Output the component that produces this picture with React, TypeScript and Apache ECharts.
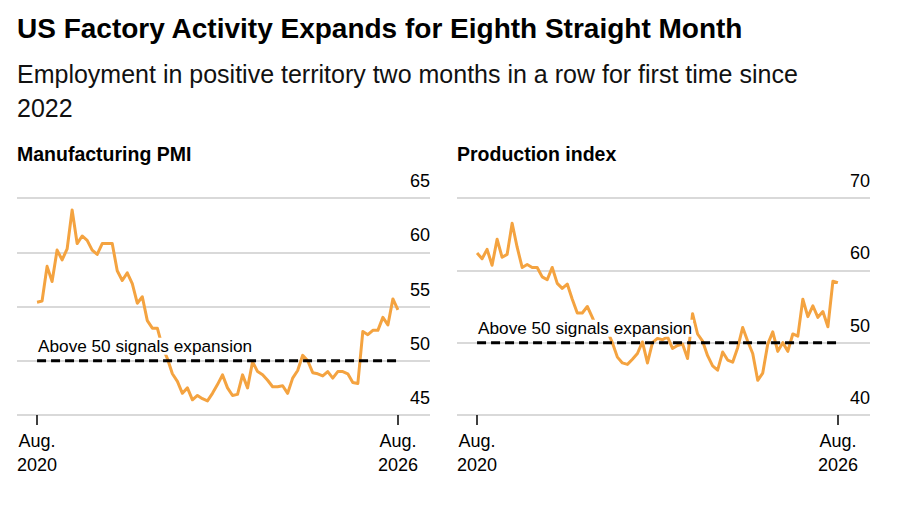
import React, { useEffect, useRef } from "react";
import * as echarts from "echarts";

const FONT = "'Liberation Sans', Arial, sans-serif";

const titleText = "US Factory Activity Expands for Eighth Straight Month";
const subtitleText =
  "Employment in positive territory two months in a row for first time since\n2022";
const panelTitles = ["Manufacturing PMI", "Production index"];
const annotation = "Above 50 signals expansion";

// monthly index 0 = Aug. 2020 ... 72 = Aug. 2026
const tickIndices = [0, 72];
const tickLabels = ["Aug.\n2020", "Aug.\n2026"];

const pmi = [
  55.4, 55.5, 58.7, 57.3, 60.2, 59.3, 60.3, 63.9, 60.8, 61.5, 61.1, 60.2,
  59.8, 60.8, 60.8, 60.8, 58.3, 57.4, 58.1, 57.1, 55.3, 55.9, 53.7, 53.0,
  53.0, 51.3, 50.2, 48.8, 48.1, 47.0, 47.5, 46.4, 46.8, 46.5, 46.3, 47.0,
  47.8, 48.7, 47.5, 46.8, 46.9, 48.7, 47.5, 49.9, 49.0, 48.7, 48.2, 47.6,
  47.6, 47.7, 47.0, 48.4, 49.1, 50.5, 50.0, 48.9, 48.8, 48.6, 49.0, 48.4,
  49.0, 49.0, 48.8, 48.0, 47.9, 52.7, 52.4, 52.8, 52.8, 54.0, 53.3, 55.7,
  54.7,
];

const production = [
  62.4, 61.6, 62.9, 60.7, 64.3, 61.8, 62.2, 66.5, 63.2, 60.4, 60.8, 60.4,
  60.4, 59.1, 58.7, 60.4, 58.2, 57.5, 58.1, 56.0, 54.1, 54.1, 55.0, 53.5,
  51.8, 51.3, 51.6, 50.0, 48.0, 47.2, 47.0, 47.7, 48.5, 50.1, 47.2, 50.0,
  50.6, 50.4, 50.8, 49.2, 49.6, 49.8, 47.8, 54.0, 51.2, 50.2, 48.2, 46.8,
  46.2, 48.7, 47.6, 47.3, 49.3, 52.1, 50.2, 48.5, 44.8, 45.8, 49.8, 51.5,
  48.8, 50.0, 48.8, 51.2, 50.9, 56.0, 53.6, 55.1, 53.5, 54.3, 52.2, 58.5,
  58.3,
];

const threshold = 50;
const pmiAxis = [45, 65, 5];
const productionAxis = [40, 70, 10];

const ORANGE = "#F4A340";
const GRID_COLOR = "#cccccc";

export default function App() {
  const ref = useRef<HTMLDivElement>(null);

  useEffect(() => {
    if (!ref.current) return;
    const chart = echarts.init(ref.current, null, { renderer: "svg" });

    const grids = [
      { left: 17, top: 198, width: 413, height: 217 },
      { left: 457, top: 198, width: 413, height: 217 },
    ];

    const xAxes = [0, 1].map((g) => ({
      type: "value",
      gridIndex: g,
      min: -4,
      max: 78.4,
      axisLine: { show: false },
      splitLine: { show: false },
      axisTick: {
        show: true,
        customValues: tickIndices,
        length: 10,
        lineStyle: { color: "#000", width: 1.5 },
      },
      axisLabel: {
        show: true,
        customValues: tickIndices,
        formatter: (v: number) => tickLabels[tickIndices.indexOf(Math.round(v))] ?? "",
        fontSize: 18,
        lineHeight: 24,
        color: "#000",
        margin: 14,
        fontFamily: FONT,
      },
    }));

    const yAxis = (g: number, cfg: number[]) => ({
      type: "value",
      gridIndex: g,
      position: "right",
      min: cfg[0],
      max: cfg[1],
      interval: cfg[2],
      axisLine: { show: false },
      axisTick: { show: false },
      splitLine: { show: true, lineStyle: { color: GRID_COLOR, width: 1.5 } },
      axisLabel: {
        inside: true,
        margin: 0,
        verticalAlign: "bottom",
        padding: [0, 0, 8, 0],
        fontSize: 18,
        color: "#000",
        fontFamily: FONT,
        showMinLabel: true,
        showMaxLabel: true,
      },
    });

    const lineSeries = (g: number, values: number[]) => ({
      type: "line",
      xAxisIndex: g,
      yAxisIndex: g,
      data: values.map((v, i) => [i, v]),
      showSymbol: false,
      symbol: "none",
      lineStyle: { color: ORANGE, width: 3, join: "round" },
      z: 2,
      silent: true,
    });

    const thresholdSeries = (g: number, last: number) => ({
      type: "line",
      xAxisIndex: g,
      yAxisIndex: g,
      showSymbol: true,
      symbol: "circle",
      symbolSize: 2,
      itemStyle: { color: "rgba(0,0,0,0)", borderWidth: 0 },
      lineStyle: { color: "#000", width: 3, type: [9, 5] },
      z: 4,
      silent: true,
      label: { show: false },
      data: [
        {
          value: [0, threshold],
          label: {
            show: true,
            position: "top",
            align: "left",
            distance: 5,
            formatter: annotation,
            fontSize: 17.2,
            color: "#000",
            fontFamily: FONT,
            backgroundColor: "#fff",
            padding: [0, 1, 0, 1],
          },
        },
        { value: [last, threshold] },
      ],
    });

    const option = {
      animation: false,
      backgroundColor: "#fff",
      textStyle: { fontFamily: FONT },
      grid: grids,
      xAxis: xAxes,
      yAxis: [yAxis(0, pmiAxis), yAxis(1, productionAxis)],
      graphic: [
        {
          type: "text",
          x: 17,
          y: 28,
          style: {
            text: titleText,
            fontSize: 28,
            fontWeight: "bold",
            fontFamily: FONT,
            fill: "#000",
            verticalAlign: "middle",
          },
        },
        {
          type: "text",
          x: 17,
          y: 57,
          style: {
            text: subtitleText,
            fontSize: 25,
            lineHeight: 34,
            fontFamily: FONT,
            fill: "#111",
            verticalAlign: "top",
          },
        },
        {
          type: "text",
          x: 17,
          y: 154,
          style: {
            text: panelTitles[0],
            fontSize: 19.5,
            fontWeight: "bold",
            fontFamily: FONT,
            fill: "#000",
            verticalAlign: "middle",
          },
        },
        {
          type: "text",
          x: 457,
          y: 154,
          style: {
            text: panelTitles[1],
            fontSize: 19.5,
            fontWeight: "bold",
            fontFamily: FONT,
            fill: "#000",
            verticalAlign: "middle",
          },
        },
      ],
      series: [
        lineSeries(0, pmi),
        lineSeries(1, production),
        thresholdSeries(0, pmi.length - 1),
        thresholdSeries(1, production.length - 1),
      ],
    };

    chart.setOption(option as any);
    return () => chart.dispose();
  }, []);

  return (
    <div
      ref={ref}
      style={{
        position: "fixed",
        left: 0,
        top: 0,
        width: 900,
        height: 510,
        background: "#fff",
      }}
    />
  );
}
